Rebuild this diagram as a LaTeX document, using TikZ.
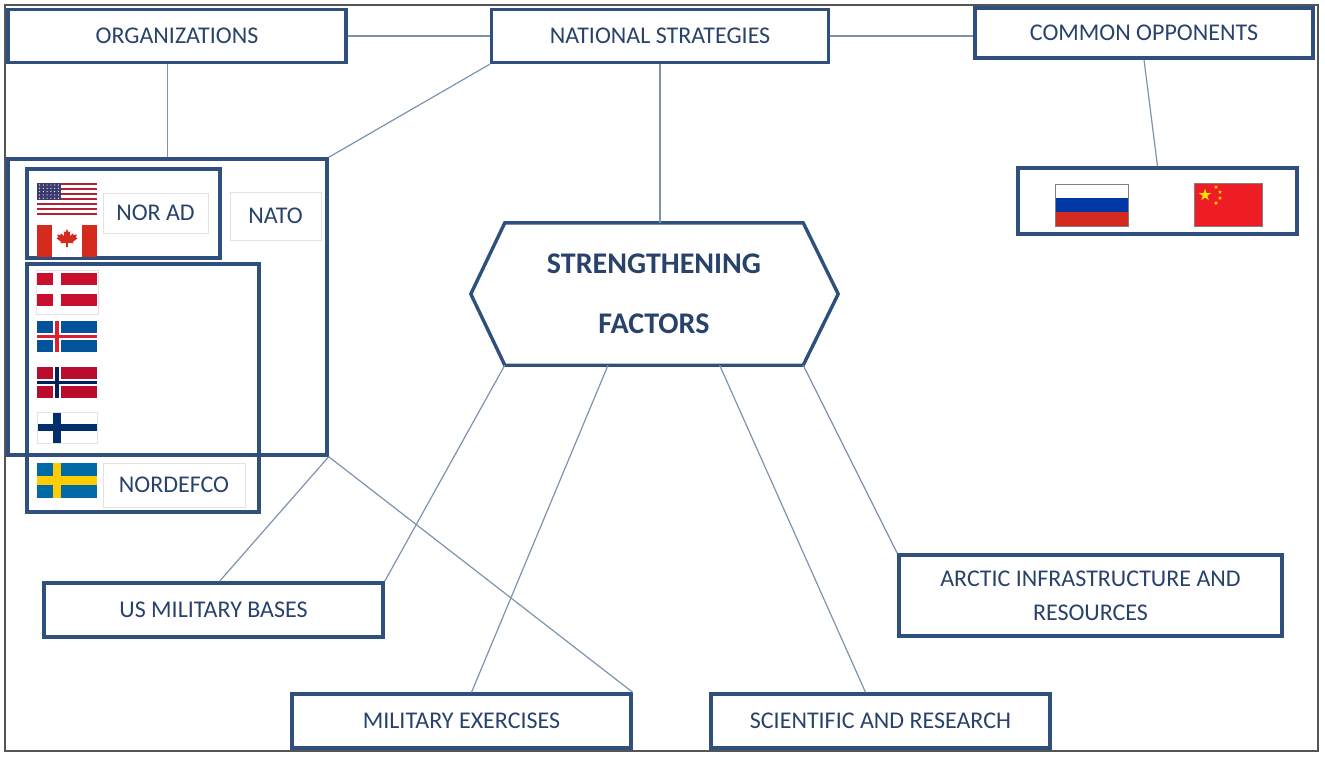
\documentclass[tikz,border=0pt]{standalone}
\usepackage{fontspec}
\setmainfont{Carlito}
\usepackage{xcolor}
\usetikzlibrary{calc}

\definecolor{boxblue}{HTML}{2F4F7D}
\definecolor{textblue}{HTML}{28426B}
\definecolor{linkblue}{HTML}{7C93AE}
\definecolor{lblgray}{HTML}{E2E2E2}
\definecolor{framegray}{HTML}{555555}
\definecolor{usred}{HTML}{B22234}
\definecolor{usblue}{HTML}{3C3B6E}
\definecolor{cared}{HTML}{D52B1E}
\definecolor{dkred}{HTML}{C8102E}
\definecolor{iceblue}{HTML}{02529C}
\definecolor{icered}{HTML}{DC1E35}
\definecolor{nored}{HTML}{BA0C2F}
\definecolor{noblue}{HTML}{00205B}
\definecolor{fiblue}{HTML}{002F6C}
\definecolor{seblue}{HTML}{006AA7}
\definecolor{seyellow}{HTML}{FECC02}
\definecolor{rublue}{HTML}{0039A6}
\definecolor{rured}{HTML}{D52B1E}
\definecolor{cnred}{HTML}{EE1C25}
\definecolor{cnyellow}{HTML}{FFDE00}

\tikzset{
	mainbox/.style={draw=boxblue, line width=3.4pt, text=textblue, font=\fontsize{24}{34}\selectfont, align=center, inner sep=0pt},
	lblbox/.style={draw=lblgray, line width=1pt, text=textblue, font=\fontsize{24}{29}\selectfont, inner sep=0pt},
	link/.style={draw=linkblue, line width=1.2pt},
}

\newcommand\crossflag[6]{
	\fill [#4] (#1,#2) rectangle ({#1+60},{#2+#3});
	\fill [#5] ({#1+20-#3/8},#2) rectangle ({#1+20+#3/8},{#2+#3});
	\fill [#5] (#1,{#2+#3/2-#3/8}) rectangle ({#1+60},{#2+#3/2+#3/8});
	\fill [#6] ({#1+20-#3/16},#2) rectangle ({#1+20+#3/16},{#2+#3});
	\fill [#6] (#1,{#2+#3/2-#3/16}) rectangle ({#1+60},{#2+#3/2+#3/16});
}
\newcommand\flagstar[3]{
	\fill [cnyellow, shift={(#1,#2)}] (-90:#3) \foreach \k in {1,...,9}{ -- ({-90+36*\k}:{#3*(0.69+0.31*cos(180*\k))}) } -- cycle;
}

\begin{document}
\begin{tikzpicture}[x=1pt, y=-1pt]
	\useasboundingbox (0,0) rectangle (1325,758);
	\draw [line width=1.5pt, draw=framegray] (5,5) rectangle (1318,751);

	\node [mainbox, minimum width=338pt, minimum height=53pt] (orgs) at (177,36) {ORGANIZATIONS};
	\node [mainbox, minimum width=337pt, minimum height=53pt] (natstrat) at (660,36) {NATIONAL STRATEGIES};
	\node [mainbox, minimum width=338pt, minimum height=50pt] (opponents) at (1144,33) {COMMON OPPONENTS};
	\node [mainbox, minimum width=279pt, minimum height=66pt] (oppflags) at (1157.5,201) {};
	\node [mainbox, minimum width=319pt, minimum height=296pt] (nato) at (167.5,307) {};
	\node [mainbox, minimum width=193pt, minimum height=89pt] (norad) at (123.5,213.5) {};
	\node [mainbox, minimum width=232pt, minimum height=248pt] (nordic) at (143,388) {};
	\node [lblbox, minimum width=105pt, minimum height=40pt] (noradlbl) at (155.5,213) {NOR AD};
	\node [lblbox, minimum width=91pt, minimum height=48pt] (natolbl) at (275.5,216) {NATO};
	\node [lblbox, minimum width=142pt, minimum height=44pt] (nordefcolbl) at (174,485) {NORDEFCO};
	\node [mainbox, minimum width=339pt, minimum height=54pt] (usbases) at (213.5,610) {US MILITARY BASES};
	\node [mainbox, minimum width=339pt, minimum height=54pt] (exercises) at (461.5,721) {MILITARY EXERCISES};
	\node [mainbox, minimum width=339pt, minimum height=54pt] (science) at (880.5,721) {SCIENTIFIC AND RESEARCH};
	\node [mainbox, minimum width=383pt, minimum height=81pt] (arctic) at (1090.5,595.5) {ARCTIC INFRASTRUCTURE AND\\RESOURCES};

	\node [text=textblue, font=\bfseries\fontsize{30}{60}\selectfont, align=center, minimum width=298pt, minimum height=142pt, inner sep=0pt] (hex) at (654,294) {STRENGTHENING\\FACTORS};
	\draw [draw=boxblue, line width=3.4pt] (hex.north west) -- (hex.north east) -- ([xshift=35pt]hex.east) -- (hex.south east) -- (hex.south west) -- ([xshift=-34pt]hex.west) -- cycle;

	\draw [link] (orgs.east) -- (natstrat.west);
	\draw [link] (natstrat.east) -- (natstrat.east -| opponents.west);
	\draw [link] (orgs.south -| nato.north) -- (nato.north);
	\draw [link] (natstrat.south west) -- (nato.north east);
	\draw [link] (natstrat.south) -- (natstrat.south |- hex.north);
	\draw [link] (opponents.south) -- (oppflags.north);
	\draw [link] (nato.south east) -- ([xshift=6pt]usbases.north);
	\draw [link] (nato.south east) -- (exercises.north east);
	\draw [link] (hex.south west) -- (usbases.north east);
	\draw [link] ($(hex.south west)!0.346!(hex.south east)$) -- ([xshift=10pt]exercises.north);
	\draw [link] ($(hex.south west)!0.72!(hex.south east)$) -- ([xshift=-15pt]science.north);
	\draw [link] (hex.south east) -- (arctic.north west);

	\fill [white] (37,183) rectangle (97,215);
	\foreach \i in {0,2,...,12}
		\fill [usred] (37,{183+\i*32/13}) rectangle (97,{183+(\i+1)*32/13});
	\fill [usblue] (37,183) rectangle (61,{183+7*32/13});
	\foreach \a in {0,...,5}
		\foreach \b in {0,...,4}
			\fill [white] ({39.5+\a*3.8},{185+\b*3.3}) circle (0.6);

	\fill [white] (37,225) rectangle (97,257);
	\fill [cared] (37,225) rectangle (52,257);
	\fill [cared] (82,225) rectangle (97,257);
	\begin{scope}[shift={(67,240)}, scale=11]
		\fill [cared] (0,-1) -- (0.15,-0.7) -- (0.3,-0.78) -- (0.25,-0.35) -- (0.55,-0.6) -- (0.6,-0.45) -- (0.9,-0.5) -- (0.8,-0.25) -- (0.95,-0.15) -- (0.55,0.15) -- (0.6,0.3) -- (0.08,0.25) -- (0.08,0.65) -- (-0.08,0.65) -- (-0.08,0.25) -- (-0.6,0.3) -- (-0.55,0.15) -- (-0.95,-0.15) -- (-0.8,-0.25) -- (-0.9,-0.5) -- (-0.6,-0.45) -- (-0.55,-0.6) -- (-0.25,-0.35) -- (-0.3,-0.78) -- (-0.15,-0.7) -- cycle;
	\end{scope}

	\draw [lblgray, line width=0.8pt] (36,270) rectangle (98,314);
	\crossflag{37}{273}{33}{dkred}{white}{white}
	\crossflag{37}{321}{31}{iceblue}{white}{icered}
	\crossflag{37}{367}{31}{nored}{white}{noblue}
	\crossflag{37}{412}{31}{white}{fiblue}{fiblue}
	\draw [lblgray, line width=0.8pt] (37,412) rectangle (97,443);
	\crossflag{37}{463}{35}{seblue}{seyellow}{seyellow}

	\fill [white] (1055,184) rectangle (1128,198);
	\fill [rublue] (1055,198) rectangle (1128,212);
	\fill [rured] (1055,212) rectangle (1128,226);
	\draw [gray, line width=0.8pt] (1055,184) rectangle (1128,226);

	\fill [cnred] (1194,183) rectangle (1262,226);
	\draw [gray, line width=0.8pt] (1194,183) rectangle (1262,226);
	\flagstar{1205}{195}{6.5}
	\flagstar{1216}{187}{2.2}
	\flagstar{1220}{192}{2.2}
	\flagstar{1220}{198}{2.2}
	\flagstar{1216}{203}{2.2}
\end{tikzpicture}
\end{document}
